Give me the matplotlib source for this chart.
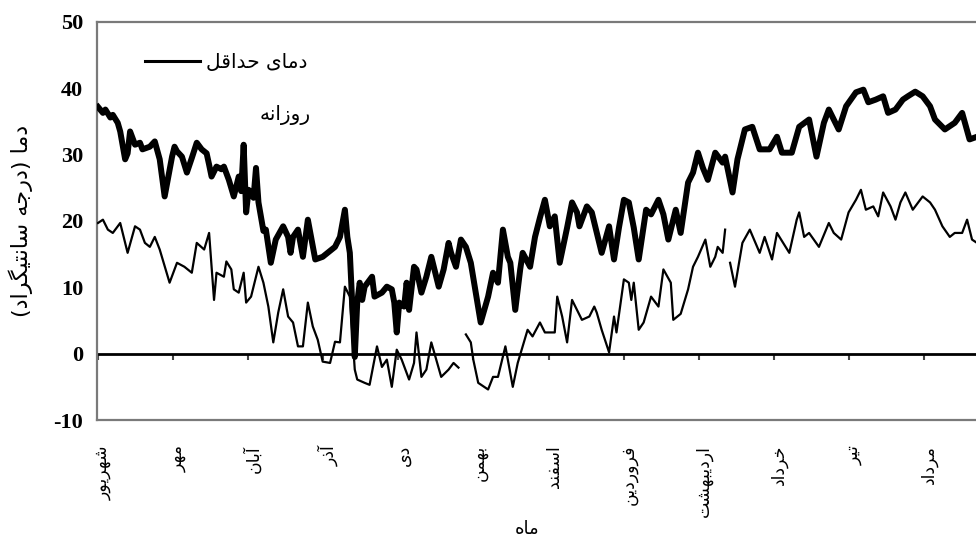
import numpy as np
import matplotlib
matplotlib.use('Agg')
import matplotlib.pyplot as plt
from matplotlib.lines import Line2D
import matplotlib.transforms as mtransforms

# ---------------- data ----------------
max_day = [0, 2, 3, 5, 6, 8, 9, 11, 12, 13, 15, 17, 18, 21, 23, 25, 27, 30, 31, 32,
           34, 36, 38, 40, 42, 44, 45, 46, 48, 50, 51, 53, 55, 57, 58, 59, 60, 61, 63, 64,
           65, 67, 68, 70, 72, 75, 77, 78, 79, 81, 83, 85, 88, 91, 93, 96, 98, 100, 101, 102,
           104, 105, 106, 107, 108, 111, 112, 115, 117, 119, 120, 121, 122, 124, 125, 126, 128, 129, 131, 133,
           135, 138, 140, 142, 143, 145, 147, 149, 151, 153, 155, 158, 160, 162, 164, 166, 167, 169, 171, 172,
           175, 177, 179, 181, 183, 185, 187, 190, 192, 194, 195, 198, 200, 204, 207, 209, 211, 213, 215, 217,
           219, 222, 224, 227, 229, 231, 234, 236, 239, 241, 243, 245, 247, 250, 253, 254, 257, 259, 262, 265,
           268, 272, 275, 277, 281, 284, 288, 291, 294, 296, 300, 303, 307, 310, 312, 315, 318, 320, 323, 326,
           328, 331, 334, 337, 339, 343, 347, 350, 353, 356, 359]
max_temp = [37.2, 36.3, 36.8, 35.6, 36.0, 34.8, 33.5, 29.3, 30.2, 33.5, 31.5, 31.8, 30.8, 31.2, 32.0, 29.3, 23.7, 29.7, 31.2, 30.5,
            29.7, 27.3, 29.5, 31.8, 30.8, 30.2, 28.5, 26.7, 28.2, 27.8, 28.2, 26.2, 23.7, 26.7, 24.5, 31.5, 21.3, 24.7, 23.5, 28.0,
            22.8, 18.5, 18.7, 13.7, 17.2, 19.2, 17.6, 15.2, 17.6, 18.7, 14.6, 20.2, 14.2, 14.6, 15.2, 16.1, 17.6, 21.7, 17.6, 15.2,
            -0.5, 7.7, 10.7, 8.1, 10.1, 11.6, 8.6, 9.2, 10.1, 9.7, 7.7, 3.2, 7.7, 7.1, 10.7, 6.6, 13.1, 12.7, 9.2, 11.6,
            14.6, 10.1, 12.7, 16.7, 15.2, 13.1, 17.2, 16.1, 13.7, 9.2, 4.7, 8.6, 12.2, 10.7, 18.7, 14.6, 13.7, 6.6, 12.7, 15.2,
            13.1, 17.6, 20.5, 23.2, 19.2, 20.7, 13.7, 19.0, 22.8, 21.3, 19.2, 22.2, 21.3, 15.2, 19.2, 14.2, 19.0, 23.2, 22.8, 19.0,
            14.2, 21.7, 21.0, 23.2, 21.0, 17.2, 21.7, 18.2, 25.8, 27.3, 30.3, 28.0, 26.2, 30.3, 28.8, 29.7, 24.3, 29.3, 33.8, 34.2,
            30.8, 30.8, 32.7, 30.3, 30.3, 34.2, 35.3, 29.7, 34.8, 36.8, 33.8, 37.3, 39.4, 39.8, 37.9, 38.3, 38.8, 36.3, 36.8, 38.3,
            38.8, 39.5, 38.8, 37.3, 35.3, 33.8, 34.8, 36.3, 32.3, 32.7, 33.0]

nan = float('nan')
min_day = [0, 2, 4, 6, 9, 12, 15, 17, 19, 21, 23, 25, 29, 32, 35, 38, 40, 43, 45, 47,
           48, 51, 52, 54, 55, 57, 59, 60, 62, 65, 67, 69, 71, 73, 75, 77, 79, 81, 83, 85,
           87, 89, 91, 94, 96, 98, 100, 102, 104, 105, 108, 110, 113, 115, 117, 119, 121, 123, 126, 128,
           129, 131, 133, 135, 137, 139, 142, 144, 146, 148, 149, 151, 152, 154, 158, 160, 162, 165, 168, 170,
           174, 176, 179, 181, 185, 186, 188, 190, 192, 194, 196, 199, 201, 202, 204, 207, 209, 210, 213, 215,
           216, 217, 219, 221, 224, 227, 229, 232, 233, 236, 239, 241, 243, 246, 248, 250, 251, 253, 254, 255,
           256, 258, 261, 264, 268, 270, 273, 275, 280, 283, 284, 286, 288, 292, 296, 298, 301, 304, 307, 309,
           311, 314, 316, 318, 321, 323, 325, 327, 330, 334, 337, 339, 342, 345, 347, 350, 352, 354, 356, 359]
min_temp = [19.7, 20.2, 18.7, 18.2, 19.7, 15.2, 19.2, 18.7, 16.7, 16.1, 17.6, 15.7, 10.7, 13.7, 13.1, 12.2, 16.7, 15.7, 18.2, 8.1,
            12.2, 11.6, 13.9, 12.7, 9.7, 9.2, 12.2, 7.7, 8.6, 13.1, 10.7, 7.1, 1.7, 6.2, 9.7, 5.6, 4.7, 1.1, 1.1, 7.7,
            4.1, 2.1, -1.2, -1.4, 1.8, 1.7, 10.1, 8.6, -2.4, -3.9, -4.4, -4.7, 1.1, -2.0, -0.9, -5.0, 0.6, -0.9, -3.9, -1.4,
            3.2, -3.5, -2.4, 1.7, -0.9, -3.5, -2.4, -1.4, -2.1, nan, 2.9, 1.7, -0.9, -4.4, -5.4, -3.5, -3.5, 1.1, -5.0, -1.4,
            3.6, 2.6, 4.7, 3.2, 3.2, 8.6, 5.6, 1.7, 8.1, 6.6, 5.1, 5.6, 7.1, 6.2, 3.6, 0.2, 5.6, 3.2, 11.2, 10.7,
            8.1, 10.7, 3.6, 4.7, 8.6, 7.1, 12.7, 10.7, 5.1, 6.0, 9.7, 13.1, 14.6, 17.2, 13.1, 14.6, 16.1, 15.2, 18.7, nan,
            13.7, 10.1, 16.7, 18.7, 15.2, 17.6, 14.2, 18.2, 15.2, 20.2, 21.3, 17.6, 18.2, 16.1, 19.7, 18.2, 17.2, 21.3, 23.2, 24.7,
            21.7, 22.2, 20.7, 24.3, 22.2, 20.2, 22.8, 24.3, 21.7, 23.7, 22.8, 21.7, 19.2, 17.6, 18.2, 18.2, 20.2, 17.2, 16.7, 16.5]

month_labels = ['شهریور', 'مهر', 'آبان', 'آذر', 'دی', 'بهمن', 'اسفند',
                'فروردین', 'اردیبهشت', 'خرداد', 'تیر', 'مرداد']
y_ticks = [-10, 0, 10, 20, 30, 40, 50]
legend_line1 = 'دمای حداقل'
legend_line2 = 'روزانه'
y_title = 'دما (درجه سانتیگراد)'
x_title = 'ماه'

# ---------------- Persian shaping (presentation forms, visual order) ----------------
FORMS = {  # isolated, final, initial, medial
    '\u0627': ('\uFE8D', '\uFE8E', None, None),
    '\u0622': ('\uFE81', '\uFE82', None, None),
    '\u0628': ('\uFE8F', '\uFE90', '\uFE91', '\uFE92'),
    '\u062A': ('\uFE95', '\uFE96', '\uFE97', '\uFE98'),
    '\u062C': ('\uFE9D', '\uFE9E', '\uFE9F', '\uFEA0'),
    '\u062D': ('\uFEA1', '\uFEA2', '\uFEA3', '\uFEA4'),
    '\u062E': ('\uFEA5', '\uFEA6', '\uFEA7', '\uFEA8'),
    '\u062F': ('\uFEA9', '\uFEAA', None, None),
    '\u0630': ('\uFEAB', '\uFEAC', None, None),
    '\u0631': ('\uFEAD', '\uFEAE', None, None),
    '\u0632': ('\uFEAF', '\uFEB0', None, None),
    '\u0633': ('\uFEB1', '\uFEB2', '\uFEB3', '\uFEB4'),
    '\u0634': ('\uFEB5', '\uFEB6', '\uFEB7', '\uFEB8'),
    '\u0641': ('\uFED1', '\uFED2', '\uFED3', '\uFED4'),
    '\u0642': ('\uFED5', '\uFED6', '\uFED7', '\uFED8'),
    '\u0644': ('\uFEDD', '\uFEDE', '\uFEDF', '\uFEE0'),
    '\u0645': ('\uFEE1', '\uFEE2', '\uFEE3', '\uFEE4'),
    '\u0646': ('\uFEE5', '\uFEE6', '\uFEE7', '\uFEE8'),
    '\u0647': ('\uFEE9', '\uFEEA', '\uFEEB', '\uFEEC'),
    '\u0648': ('\uFEED', '\uFEEE', None, None),
    '\u06CC': ('\uFBFC', '\uFBFD', '\uFBFE', '\uFBFF'),
    '\u06AF': ('\uFB92', '\uFB93', '\uFB94', '\uFB95'),
}


def shape(s):
    out = []
    for i, c in enumerate(s):
        if c not in FORMS:
            out.append(c)
            continue
        prev = s[i - 1] if i > 0 else None
        nxt = s[i + 1] if i + 1 < len(s) else None
        jp = prev in FORMS and FORMS[prev][2] is not None
        jn = nxt in FORMS and FORMS[c][2] is not None
        iso, fin, ini, med = FORMS[c]
        if jp and jn:
            out.append(med)
        elif jp:
            out.append(fin)
        elif jn:
            out.append(ini)
        else:
            out.append(iso)
    vis = ''.join(out)[::-1]
    return vis.translate(str.maketrans('()', ')('))


# ---------------- figure ----------------
W, H = 976, 545
fig = plt.figure(figsize=(W / 100, H / 100), dpi=100)
ax = fig.add_axes([97 / W, 125 / H, 893 / W, 398 / H])

ymin, ymax = -10, 50
px_per_day = 75.1 / (365 / 12)
ax.set_xlim(-0.4, 893 / px_per_day - 0.4)
ax.set_ylim(ymin, ymax)

ax.plot(max_day, max_temp, color='black', lw=4.3, solid_joinstyle='round', zorder=3)
ax.plot(min_day, min_temp, color='black', lw=1.6, solid_joinstyle='round', zorder=3)

month_pos = np.arange(12) * 365 / 12

# axis frame
for side in ['left', 'top', 'bottom']:
    ax.spines[side].set_color('#7a7a7a')
    ax.spines[side].set_linewidth(1.6)
ax.spines['right'].set_visible(False)

# month labels below the frame
persian = 'DejaVu Sans'
ax.set_xticks(month_pos)
ax.set_xticklabels([shape(m) for m in month_labels], rotation=90,
                   fontfamily=persian, fontsize=12.5)
ax.tick_params(axis='x', length=0, pad=18)
offset = mtransforms.ScaledTranslation(5 / 100, 0, fig.dpi_scale_trans)
for lab in ax.get_xticklabels():
    lab.set_transform(lab.get_transform() + offset)

ax.set_yticks(y_ticks)
ax.set_yticklabels([str(v) for v in y_ticks], fontfamily='Liberation Serif',
                   fontweight='bold', fontsize=16)
ax.tick_params(axis='y', length=0, pad=10)

# zero line with month ticks
sec = ax.secondary_xaxis((0 - ymin) / (ymax - ymin))
sec.set_xticks(month_pos)
sec.tick_params(axis='x', direction='out', length=4, width=1.5, color='#444444',
                labelbottom=False, labeltop=False)
for side in ['top', 'bottom']:
    sec.spines[side].set_color('black')
    sec.spines[side].set_linewidth(2.0)

# axis titles
ax.set_ylabel(shape(y_title), fontfamily=persian, fontsize=16)
ax.yaxis.set_label_coords((33 - 97) / 893, 0.5)
ax.set_xlabel(shape(x_title), fontfamily=persian, fontsize=13)
ax.xaxis.set_label_coords((527 - 97) / 893, (420 - 520) / 398)

# legend
handle = Line2D([], [], color='black', lw=2.2)
leg = ax.legend([handle], [shape(legend_line1)], loc='center left',
                bbox_to_anchor=((145 - 97) / 893, (420 - 63) / 398),
                frameon=False, borderpad=0, borderaxespad=0,
                handlelength=2.75, handletextpad=0.28,
                prop={'family': persian, 'size': 14.5})
ax.text((311 - 97) / 893, (420 - 115) / 398, shape(legend_line2), transform=ax.transAxes,
        ha='right', va='center', fontfamily=persian, fontsize=14.5)

fig.savefig('out.png', dpi=100)
